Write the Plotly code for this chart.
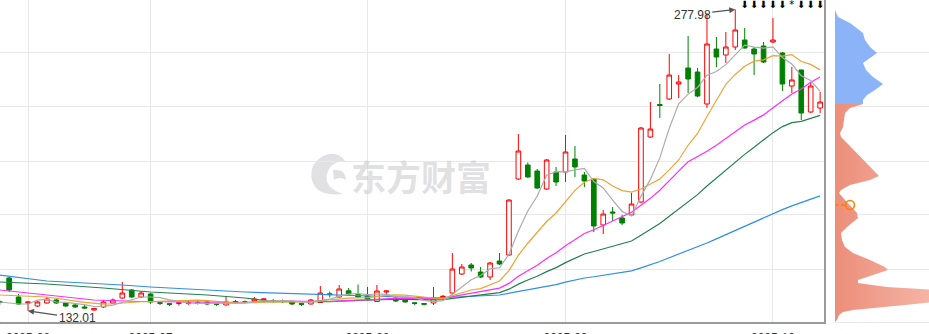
import plotly.graph_objects as go

# ---------------- data ----------------
DATE_TICK_TEXT = ["2025-06", "2025-07", "2025-08", "2025-09", "2025-10"]
DATE_TICK_IDX = [3, 16, 39, 60, 82]

OPEN = [136.61, 147.99, 138.79, 135.88, 134.43, 135.88, 137.34, 135.88, 134.92, 133.95,
        132.49, 133.95, 135.88, 138.30, 142.18, 138.79, 140.24, 136.03, 135.54, 135.64,
        135.74, 136.03, 136.37, 135.54, 134.92, 136.61, 136.12, 136.85, 137.53, 137.09,
        136.99, 136.37, 135.59, 135.40, 136.12, 140.34, 138.79, 141.79, 140.00, 139.27,
        136.61, 141.21, 138.30, 137.34, 135.98, 135.59, 135.88, 138.79, 140.72, 149.92,
        154.28, 150.89, 148.47, 156.22, 159.12, 195.92, 202.70, 199.79, 191.08, 199.31,
        199.31, 205.60, 197.85, 195.92, 173.65, 179.94, 177.04, 178.49, 184.78, 216.25,
        231.99, 234.65, 241.91, 249.66, 247.72, 232.23, 258.86, 255.95, 259.82, 263.21,
        258.86, 260.31, 262.24, 256.92, 240.94, 248.69, 228.36, 230.29]
HIGH = [137.34, 148.47, 140.24, 136.47, 136.85, 138.79, 137.82, 136.37, 135.88, 134.92,
        133.47, 137.34, 138.06, 146.05, 142.66, 141.69, 140.72, 136.85, 135.64, 136.12,
        136.85, 136.85, 136.61, 135.64, 138.79, 137.34, 137.09, 138.79, 137.92, 137.82,
        137.58, 136.61, 135.64, 137.82, 144.11, 141.45, 144.60, 143.14, 144.84, 143.63,
        144.60, 141.94, 138.79, 137.82, 136.08, 135.69, 143.63, 139.76, 160.09, 154.77,
        155.25, 153.31, 155.73, 160.09, 185.99, 217.70, 203.91, 200.76, 205.60, 201.73,
        217.22, 211.90, 199.31, 196.40, 180.91, 182.36, 178.49, 189.14, 221.09, 233.20,
        241.91, 256.44, 246.27, 265.15, 249.66, 276.29, 264.67, 267.09, 277.98, 269.02,
        259.82, 262.24, 273.87, 257.40, 250.14, 248.93, 242.40, 238.04]
LOW = [134.92, 141.21, 134.92, 132.01, 133.95, 135.64, 135.40, 133.95, 133.47, 132.98,
       132.25, 133.47, 135.40, 137.82, 138.30, 138.30, 135.40, 134.92, 134.43, 134.67,
       134.92, 135.16, 134.92, 134.43, 134.67, 135.40, 135.64, 136.37, 135.88, 136.12,
       135.88, 134.92, 134.43, 135.16, 135.88, 138.55, 138.55, 139.76, 138.55, 137.34,
       136.37, 139.76, 136.37, 136.12, 134.92, 134.67, 134.92, 138.30, 140.24, 149.44,
       151.13, 147.99, 147.02, 154.28, 158.64, 195.43, 196.40, 191.08, 190.59, 192.53,
       194.46, 196.89, 192.04, 170.26, 169.29, 175.58, 173.65, 178.00, 184.30, 215.77,
       225.45, 234.17, 235.13, 237.55, 235.62, 230.29, 250.14, 252.08, 258.37, 259.10,
       246.27, 252.08, 261.76, 238.52, 237.55, 224.48, 227.87, 227.87]
CLOSE = [136.12, 142.18, 135.40, 136.37, 136.37, 137.82, 135.88, 134.43, 133.95, 133.47,
         133.22, 136.37, 137.34, 140.72, 138.79, 140.72, 136.37, 135.74, 135.25, 135.98,
         136.03, 135.74, 135.40, 135.25, 136.37, 136.12, 136.46, 137.82, 137.82, 136.61,
         136.70, 135.40, 135.25, 137.34, 140.72, 139.95, 142.66, 140.24, 138.79, 137.82,
         141.69, 141.69, 136.85, 136.37, 135.69, 135.30, 138.30, 139.08, 152.34, 153.31,
         152.83, 148.47, 155.25, 154.77, 185.75, 209.47, 196.89, 191.56, 205.12, 194.46,
         208.99, 201.73, 194.95, 173.16, 178.97, 179.45, 174.61, 183.81, 220.61, 220.12,
         231.50, 246.27, 242.88, 244.33, 236.10, 261.28, 254.98, 259.82, 268.06, 259.34,
         256.44, 252.56, 263.21, 241.91, 243.85, 227.87, 240.94, 233.19]

N = None
MA5 = [136.37, 135.88, 135.40, 135.40, 137.29, 137.63, 136.37, 136.17, 135.69, 135.11,
       134.19, 134.29, 134.87, 136.22, 137.29, 138.79, 138.79, 138.45, 137.38, 136.80,
       135.88, 135.74, 135.69, 135.69, 135.74, 135.79, 135.93, 136.42, 136.90, 136.95,
       137.09, 136.85, 136.37, 136.27, 137.09, 137.72, 139.18, 140.19, 140.48, 139.90,
       140.24, 140.04, 138.88, 138.88, 138.45, 137.19, 136.51, 136.95, 140.14, 143.63,
       147.17, 149.20, 152.44, 152.93, 159.41, 170.74, 180.42, 187.69, 197.76, 199.50,
       199.40, 200.37, 201.05, 194.66, 191.56, 185.65, 180.23, 178.00, 187.49, 195.72,
       206.13, 220.46, 232.28, 237.02, 240.22, 246.17, 247.92, 251.30, 256.05, 260.70,
       259.73, 259.24, 259.92, 254.69, 251.59, 245.88, 243.56, 238.33]
MA10 = [139.76, N, N, N, N, 138.79, N, N, N, 136.20,
        135.91, 135.33, 135.52, 135.96, 136.20, 136.49, 136.54, 136.67, 136.80, 137.05,
        137.33, 137.27, 137.07, 136.53, 136.28, 135.82, 135.83, 136.04, 136.30, 136.36,
        136.43, 136.40, 136.38, 136.59, 137.03, 137.41, 138.03, 138.27, 138.37, 138.49,
        138.99, 139.61, 139.78, 139.68, 139.18, 138.71, 138.28, 138.16, 139.51, 141.06,
        142.18, 142.85, 144.69, 146.53, 151.54, 158.96, 164.81, 170.06, 175.34, 179.46,
        185.07, 190.40, 194.37, 196.21, 195.53, 192.53, 190.30, 189.53, 191.08, 193.64,
        195.89, 200.35, 205.14, 212.26, 217.97, 226.15, 234.19, 241.79, 246.54, 250.46,
        252.95, 253.58, 255.61, 255.37, 256.15, 252.80, 251.40, 248.74]
MA20 = [142.18, N, N, N, N, 139.76, N, N, N, N,
        137.34, N, N, N, N, 136.61, N, N, N, 136.62,
        136.62, 136.29, 136.29, 136.24, 136.24, 136.15, 136.18, 136.35, 136.55, 136.71,
        136.88, 136.83, 136.72, 136.56, 136.66, 136.61, 136.93, 137.16, 137.34, 137.43,
        137.71, 138.01, 138.08, 138.13, 138.10, 138.06, 138.16, 138.21, 138.93, 139.78,
        140.58, 141.26, 142.22, 143.10, 145.37, 148.83, 151.54, 154.11, 157.43, 160.26,
        163.62, 166.63, 169.53, 171.37, 173.54, 175.74, 177.56, 179.79, 183.21, 186.55,
        190.48, 195.37, 199.75, 204.23, 206.75, 209.34, 212.24, 215.66, 218.80, 222.05,
        224.42, 226.96, 230.37, 233.81, 237.06, 239.48, 242.79, 245.26]
MA30 = [146.05, N, N, N, N, 145.08, N, N, N, N,
        N, 143.14, N, N, N, N, 141.21, N, N, N,
        N, N, 139.76, N, N, N, 138.30, N, N, 136.54,
        136.56, 136.33, 136.32, 136.36, 136.50, 136.57, 136.80, 136.99, 137.16, 137.30,
        137.58, 137.76, 137.74, 137.60, 137.49, 137.31, 137.38, 137.49, 138.06, 138.64,
        139.20, 139.62, 140.28, 140.93, 142.58, 145.02, 147.04, 148.83, 151.08, 153.00,
        155.41, 157.62, 159.61, 160.81, 162.08, 163.40, 164.46, 165.91, 168.64, 171.38,
        174.38, 177.87, 181.40, 185.00, 188.34, 192.55, 196.44, 200.46, 204.32, 207.85,
        211.30, 214.78, 218.37, 221.28, 223.21, 223.83, 225.30, 226.69]
MA60 = [149.44, N, N, N, N, 146.53, N, N, N, N,
        N, N, N, 144.60, N, N, 143.63, N, N, N,
        N, N, N, N, N, N, 141.21, N, N, N,
        N, N, N, N, N, N, N, 139.76, N, N,
        N, N, N, N, N, N, 138.30, N, N, N,
        N, N, N, 139.76, N, N, 142.18, N, N, 144.77,
        145.98, 146.97, 147.97, 148.58, 149.29, 149.99, 150.63, 151.45, 152.90, 154.34,
        155.98, 157.81, 159.57, 161.30, 162.92, 164.93, 166.91, 168.97, 171.19, 173.24,
        175.25, 177.20, 179.33, 181.11, 182.90, 184.43, 186.17, 187.76]

# chip distribution (price level, relative amount)
CHIP_PRICE = [277.74, 274.35, 271.44, 266.60, 263.21, 259.82, 256.92, 254.50, 252.08, 248.69,
              245.30, 241.91, 239.00, 236.59, 234.17, 232.23, 230.29, 227.87, 224.48, 221.09,
              218.19, 216.25, 213.35, 208.51, 203.66, 200.27, 197.37, 195.43, 193.00, 190.59,
              189.14, 185.75, 182.36, 179.45, 177.04, 175.10, 172.68, 169.77, 166.38, 163.00,
              160.09, 156.70, 153.31, 151.86, 149.44, 147.02, 145.57, 143.63, 142.18, 136.37,
              134.92, 133.47, 132.49, 131.53, 130.07, 127.65, 126.68]
CHIP_AMOUNT = [0, 3, 15, 28, 30, 35, 42, 35, 28, 31,
               38, 48, 40, 32, 28, 28, 15, 10, 9, 8,
               5, 6, 12, 22, 32, 38, 44, 35, 15, 6,
               4, 10, 17, 22, 23, 18, 12, 6, 7, 10,
               18, 35, 50, 53, 38, 23, 23, 52, 100, 100,
               70, 35, 18, 8, 4, 2, 0]
CHIP_SPLIT = 232.23      # profit / loss boundary (current price level)
AVG_COST = 183.33        # average cost marker

HIGH_LABEL = "277.98"
LOW_LABEL = "132.01"
SIGNAL_IDX = [79, 80, 81, 82, 83, 84, 85, 86, 87]
SIGNAL_TEXT = ["⬇", "⬇", "⬇", "⬇", "⬇", "*", "⬇", "⬇", "⬇"]

GRID_PRICES = [152.34, 178.49, 204.63, 230.9, 257.2]
Y_RANGE = [126.68, 282.58]

# ---------------- figure ----------------
W, H = 929, 334
PLOT_H = 322
MAIN_RIGHT = 824 / W
CHIP_LEFT = 835 / W
IDX = list(range(len(CLOSE)))

fig = go.Figure()

fig.add_trace(go.Candlestick(
    x=IDX, open=OPEN, high=HIGH, low=LOW, close=CLOSE,
    increasing=dict(line=dict(color="#ff0000", width=1), fillcolor="#ffffff"),
    decreasing=dict(line=dict(color="#008000", width=1), fillcolor="#008000"),
    whiskerwidth=0, hoverinfo="skip", showlegend=False, xaxis="x", yaxis="y"))

for vals, col in [(MA60, "#2f8fe3"), (MA30, "#23804e"), (MA20, "#ff2cff"),
                  (MA10, "#eba534"), (MA5, "#acacac")]:
    fig.add_trace(go.Scatter(x=IDX, y=vals, mode="lines", connectgaps=True,
                             line=dict(color=col, width=1.2), hoverinfo="skip",
                             showlegend=False, xaxis="x", yaxis="y"))

fig.add_trace(go.Scatter(x=SIGNAL_IDX, y=[279.85] * len(SIGNAL_IDX), mode="text",
                         text=SIGNAL_TEXT, textposition="middle center",
                         textfont=dict(size=10, color="#000", family="DejaVu Sans"),
                         cliponaxis=False, hoverinfo="skip", showlegend=False,
                         xaxis="x", yaxis="y"))

# chip distribution
up_p = [p for p in CHIP_PRICE if p >= CHIP_SPLIT]
up_a = [a for p, a in zip(CHIP_PRICE, CHIP_AMOUNT) if p >= CHIP_SPLIT]
dn_p = [p for p in CHIP_PRICE if p <= CHIP_SPLIT]
dn_a = [a for p, a in zip(CHIP_PRICE, CHIP_AMOUNT) if p <= CHIP_SPLIT]
fig.add_trace(go.Scatter(x=up_a, y=up_p, mode="lines", fill="tozerox",
                         fillcolor="rgb(138,180,247)", line=dict(width=0, color="rgb(138,180,247)"),
                         hoverinfo="skip", showlegend=False, xaxis="x2", yaxis="y2"))
fig.add_trace(go.Scatter(x=dn_a, y=dn_p, mode="lines", fill="tozerox",
                         fillgradient=dict(type="horizontal", start=0, stop=94,
                                           colorscale=[[0, "rgb(236,142,122)"], [1, "rgb(245,180,165)"]]),
                         line=dict(width=0, color="rgb(238,150,130)"),
                         hoverinfo="skip", showlegend=False, xaxis="x2", yaxis="y2"))
fig.add_trace(go.Scatter(x=[0, 11], y=[AVG_COST, AVG_COST], mode="lines",
                         line=dict(color="#ff7f00", width=1.5, dash="4px,2px"),
                         hoverinfo="skip", showlegend=False, xaxis="x2", yaxis="y2"))
fig.add_trace(go.Scatter(x=[15], y=[AVG_COST], mode="markers",
                         marker=dict(symbol="circle-open", size=9, color="#ff7f00",
                                     line=dict(width=1.6, color="#ff7f00")),
                         cliponaxis=False, hoverinfo="skip", showlegend=False,
                         xaxis="x2", yaxis="y2"))

hi_i = HIGH.index(max(HIGH))
lo_i = LOW.index(min(LOW))
annotations = [
    dict(x=hi_i, y=HIGH[hi_i], xref="x", yref="y", text=HIGH_LABEL, showarrow=True,
         ax=-43, ay=5, arrowhead=2, arrowsize=1, arrowwidth=1.2, arrowcolor="#555",
         font=dict(size=12, color="#333", family="Liberation Sans, Arial")),
    dict(x=lo_i, y=LOW[lo_i], xref="x", yref="y", text=LOW_LABEL, showarrow=True,
         ax=49, ay=7, arrowhead=2, arrowsize=1, arrowwidth=1.2, arrowcolor="#555",
         font=dict(size=12, color="#333", family="Liberation Sans, Arial")),
    dict(x=421 / W, y=1 - 175 / PLOT_H, xref="paper", yref="paper", text="<b>东方财富</b>",
         showarrow=False, font=dict(size=35, color="rgba(200,200,205,0.55)",
                                    family="Noto Sans CJK SC")),
]


# faint logo next to the watermark text (pixel coords -> paper coords)
def px(x, y):
    return f"{x / W:.4f},{1 - y / PLOT_H:.4f}"


logo_path = ("M " + px(320, 158) + " Q " + px(336, 148) + " " + px(346, 162) +
             " Q " + px(331, 160) + " " + px(327, 174) + " Q " + px(324, 188) + " " + px(343, 194) +
             " Q " + px(316, 197) + " " + px(312, 180) + " Q " + px(309, 166) + " " + px(320, 158) + " Z")
logo_path2 = ("M " + px(333, 170) + " Q " + px(345, 168) + " " + px(346, 180) +
              " Q " + px(340, 176) + " " + px(334, 180) + " Z")
shapes = [
    dict(type="path", path=logo_path, xref="paper", yref="paper",
         fillcolor="rgba(200,200,205,0.55)", line=dict(width=0), layer="below"),
    dict(type="path", path=logo_path2, xref="paper", yref="paper",
         fillcolor="rgba(200,200,205,0.55)", line=dict(width=0), layer="below"),
]

grid = "#e8e8e8"
fig.update_layout(
    width=W, height=H, margin=dict(l=0, r=0, t=0, b=H - PLOT_H, autoexpand=False),
    paper_bgcolor="white", plot_bgcolor="white",
    showlegend=False, annotations=annotations, shapes=shapes, hovermode=False,
    xaxis=dict(domain=[0, MAIN_RIGHT], range=[0.03, 87.41], tickmode="array",
               tickvals=DATE_TICK_IDX, ticktext=DATE_TICK_TEXT, ticks="",
               tickfont=dict(size=12, color="#333", family="Liberation Sans, Arial"),
               ticklabelstandoff=4, automargin=False,
               showgrid=True, gridcolor=grid, gridwidth=1, zeroline=False,
               showline=True, linecolor="#9a9a9a", linewidth=1.5,
               rangeslider=dict(visible=False), anchor="y"),
    yaxis=dict(domain=[0, 1], range=Y_RANGE, tickmode="array", tickvals=GRID_PRICES,
               showticklabels=False, ticks="", showgrid=True, gridcolor=grid,
               zeroline=False, side="right", showline=True, linecolor="#9a9a9a",
               linewidth=1.5, anchor="x", automargin=False),
    xaxis2=dict(domain=[CHIP_LEFT, 1], range=[0, 94], showticklabels=False, ticks="",
                showgrid=False, zeroline=False, showline=True, linecolor=grid,
                anchor="y2", automargin=False),
    yaxis2=dict(domain=[0, 1], range=Y_RANGE, tickmode="array", tickvals=GRID_PRICES,
                showticklabels=False, ticks="", showgrid=True, gridcolor=grid,
                zeroline=False, anchor="x2", automargin=False),
)

fig.write_html("out.html")
